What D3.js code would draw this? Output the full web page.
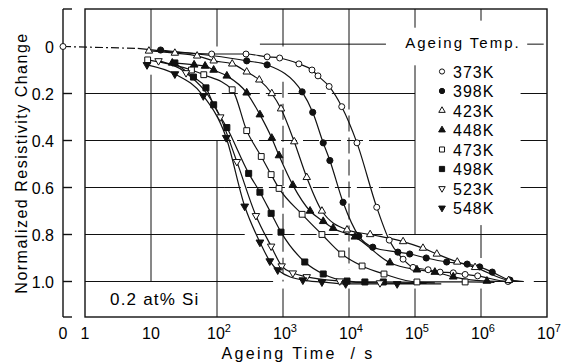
<!DOCTYPE html>
<html>
<head>
<meta charset="utf-8">
<script src="https://cdn.jsdelivr.net/npm/d3@7"></script>
<style>
  body { margin: 0; background: #fff; }
  svg { display: block; font-family: "Liberation Sans", Arial, sans-serif; }
</style>
</head>
<body>
<div id="chart"></div>
<script>
// ageing time (s) vs normalized resistivity change
const temps = ["373K", "398K", "423K", "448K", "473K", "498K", "523K", "548K"]

const s373 = [[83, 0.032], [275, 0.032], [575, 0.044], [890, 0.049], [1740, 0.074], [2750, 0.10],
  [3390, 0.125], [5000, 0.17], [7760, 0.256], [13200, 0.41], [26300, 0.684], [40700, 0.824],
  [66000, 0.905], [93300, 0.94], [158000, 0.95], [240000, 0.96], [380000, 0.963], [575000, 0.97],
  [890000, 0.976], [2570000, 1.0]]
const s398 = [[14, 0.015], [282, 0.061], [575, 0.078], [1950, 0.193], [2820, 0.28], [4070, 0.41],
  [5130, 0.485], [8130, 0.663], [14100, 0.807], [22900, 0.854], [55000, 0.875], [83200, 0.883],
  [148000, 0.90], [302000, 0.917], [617000, 0.926], [955000, 0.938], [1480000, 0.96], [2750000, 0.994]]
const s423 = [[9.3, 0.019], [23, 0.028], [50, 0.04], [89, 0.061], [170, 0.074], [282, 0.108],
  [437, 0.142], [676, 0.20], [933, 0.265], [1480, 0.405], [2290, 0.557], [3890, 0.70], [9330, 0.78],
  [20900, 0.80], [66000, 0.83], [132000, 0.858], [214000, 0.883], [437000, 0.917], [813000, 0.94],
  [2630000, 0.995]]
const s448 = [[21, 0.07], [45, 0.078], [66, 0.083], [89, 0.10], [141, 0.125], [282, 0.197],
  [447, 0.29], [676, 0.39], [871, 0.464], [1410, 0.59], [2570, 0.70], [4070, 0.744], [5750, 0.773],
  [12300, 0.81], [41700, 0.92], [107000, 0.95], [200000, 0.96], [380000, 0.98], [1230000, 0.998]]
const s473 = [[8.9, 0.057], [41, 0.10], [63, 0.12], [170, 0.184], [282, 0.358], [468, 0.468],
  [661, 0.545], [871, 0.604], [1950, 0.714], [3890, 0.80], [7760, 0.883], [15800, 0.934],
  [33900, 0.968], [107000, 1.002], [575000, 1.002]]
const s498 = [[23, 0.07], [44, 0.13], [68, 0.176], [89, 0.248], [141, 0.345], [302, 0.54],
  [447, 0.62], [661, 0.71], [933, 0.79], [2140, 0.917], [4070, 0.968], [9330, 0.998],
  [17400, 1.002], [33100, 1.002]]
const s523 = [[13, 0.061], [34, 0.112], [112, 0.30], [200, 0.49], [389, 0.72], [661, 0.85],
  [955, 0.934], [1410, 0.964], [2290, 0.98], [7240, 0.998], [29500, 1.006]]
const s548 = [[8.7, 0.078], [23, 0.117], [62, 0.21], [138, 0.388], [263, 0.68], [447, 0.833],
  [631, 0.913], [832, 0.951], [2000, 0.994], [3890, 1.002], [8910, 1.01], [53700, 1.01]]

const series = [s373, s398, s423, s448, s473, s498, s523, s548]
// where each drawn curve runs out on the right
const lineEnds = [[4.4e6, 1.0], [4.4e6, 1.0], [4.4e6, 1.0], [4.0e6, 1.0], [1.6e6, 1.004],
  [2.0e5, 1.006], [1.5e5, 1.008], [2.5e5, 1.01]]
// the 373K sample before ageing (t = 0) and where its dashed lead-in joins the curve
const zeroPoint = [0, 0]
const join373 = [6.3, 0.008]

const xTicks = [1, 10, 1e2, 1e3, 1e4, 1e5, 1e6, 1e7]
const yTicks = [0, 0.2, 0.4, 0.6, 0.8, 1.0]

const width = 568, height = 363
const svg = d3.select("#chart").append("svg")
  .attr("width", width).attr("height", height)

const x = d3.scaleLog().domain([1, 1e7]).range([85, 547])
const y = d3.scaleLinear().domain([0, 1]).range([46.5, 281.5])
const xZero = 63
const px = t => t === 0 ? xZero : x(t)
const yTop = 9, yBot = 317

// grid pieces as drawn in the original (decade exponent / value ranges), "d" = dashed
const hGrid = [
  [-0.01, [[2.65, 4.56, "s"], [6.7, 6.95, "s"]]],
  [0.2, [[0, 1.74, "s"], [1.74, 3.97, "d"], [3.97, 5, "s"], [6.6, 7, "s"]]],
  [0.4, [[0, 1.97, "s"], [1.97, 4.35, "d"], [4.35, 5, "s"], [6.6, 7, "s"]]],
  [0.6, [[0, 2.12, "s"], [2.12, 4.48, "d"], [4.48, 5, "s"], [6.6, 7, "s"]]],
  [0.8, [[0, 2.42, "s"], [2.6, 4.74, "d"], [4.74, 7, "s"]]],
  [1.0, [[0, 2.85, "s"], [6.8, 7, "s"]]]
]
const vTop = y.invert(yTop), vBot = y.invert(yBot)
const vGrid = [
  [1, [[vTop, 0.01, "s"], [0.12, 1.0, "s"]]],
  [2, [[vTop, 0.0, "s"], [0.4, vBot, "s"]]],
  [3, [[vTop, 0.0, "s"], [0.15, 1.0, "d"], [1.03, vBot, "s"]]],
  [4, [[vTop, 0.2, "s"], [0.2, 0.95, "d"], [1.03, vBot, "s"]]],
  [5, [[vTop, -0.08, "s"], [0.08, 0.8, "s"], [1.03, vBot, "s"]]],
  [6, [[vTop, -0.11, "s"], [0.76, 0.9, "s"], [1.03, vBot, "s"]]]
]

const grid = svg.append("g").attr("stroke", "#111").attr("stroke-width", 1)
hGrid.forEach(([v, segs]) => segs.forEach(s => {
  grid.append("line")
    .attr("x1", x(Math.pow(10, s[0]))).attr("x2", x(Math.pow(10, s[1])))
    .attr("y1", y(v)).attr("y2", y(v))
    .attr("stroke-dasharray", s[2] === "d" ? "16,6" : null)
}))
vGrid.forEach(([e, segs]) => segs.forEach(s => {
  grid.append("line")
    .attr("x1", x(Math.pow(10, e))).attr("x2", x(Math.pow(10, e)))
    .attr("y1", y(s[0])).attr("y2", y(s[1]))
    .attr("stroke-dasharray", s[2] === "d" ? "16,6" : null)
}))

// frame
svg.append("rect")
  .attr("x", x(1)).attr("y", yTop)
  .attr("width", x(1e7) - x(1)).attr("height", yBot - yTop)
  .attr("fill", "none").attr("stroke", "#111").attr("stroke-width", 1.4)

// separate axis for t = 0
const zAxis = svg.append("g").attr("stroke", "#111").attr("stroke-width", 1.4)
zAxis.append("line").attr("x1", xZero).attr("x2", xZero).attr("y1", yTop).attr("y2", yBot)
const zTicks = [vTop, 0.2, 0.4, 0.6, 0.8, 1.0, vBot]
zTicks.forEach(v => {
  zAxis.append("line").attr("x1", xZero).attr("x2", xZero + 9).attr("y1", y(v)).attr("y2", y(v))
})

// y tick labels
svg.append("g").selectAll("text").data(yTicks).join("text")
  .attr("x", 54).attr("y", d => y(d) + 6)
  .attr("text-anchor", "end")
  .attr("font-size", 16)
  .text(d => d === 0 ? "0" : d.toFixed(1))

// x tick labels
const xl = svg.append("g").attr("font-size", 16).attr("text-anchor", "middle")
xl.append("text").attr("x", xZero).attr("y", 339).text("0")
xTicks.forEach((t, i) => {
  const tx = xl.append("text").attr("x", x(t) + (i >= 2 ? 2 : 0)).attr("y", 339)
  if (i === 0) tx.text("1")
  else if (i === 1) tx.text("10")
  else {
    tx.append("tspan").text("10")
    tx.append("tspan").attr("dy", -7).attr("font-size", 11).text(i)
  }
})

// axis titles
svg.append("text")
  .attr("x", 298).attr("y", 359)
  .attr("text-anchor", "middle")
  .attr("font-size", 16)
  .attr("letter-spacing", 2.4)
  .style("white-space", "pre")
  .text("Ageing Time  / s")

svg.append("text")
  .attr("transform", "translate(27,163) rotate(-90)")
  .attr("text-anchor", "middle")
  .attr("font-size", 16)
  .attr("letter-spacing", 1.5)
  .text("Normalized Resistivity Change")

svg.append("text")
  .attr("x", 110).attr("y", 305)
  .attr("font-size", 17)
  .attr("letter-spacing", 1.2)
  .text("0.2 at% Si")

// curves
const line = d3.line().x(d => px(d[0])).y(d => y(d[1])).curve(d3.curveMonotoneX)
const curves = svg.append("g").attr("fill", "none").attr("stroke", "#111").attr("stroke-width", 1.2)

curves.append("path")
  .attr("d", d3.line().x(d => px(d[0])).y(d => y(d[1]))([zeroPoint, join373]))
  .attr("stroke-dasharray", "8,3,2,3")

series.forEach((s, i) => {
  const pts = (i === 0 ? [join373] : []).concat(s, [lineEnds[i]])
  curves.append("path").attr("d", line(pts))
})

// markers
const symTypes = [d3.symbolCircle, d3.symbolCircle, d3.symbolTriangle, d3.symbolTriangle,
  d3.symbolSquare, d3.symbolSquare, d3.symbolTriangle, d3.symbolTriangle]
const symSizes = [28, 30, 24, 26, 34, 36, 24, 26]
const filled = i => i % 2 === 1
const flip = i => i >= 6

function marker(g, i, cx, cy, scale) {
  g.append("path")
    .attr("d", d3.symbol().type(symTypes[i]).size(symSizes[i] * scale)())
    .attr("transform", "translate(" + cx + "," + cy + ")" + (flip(i) ? " rotate(180)" : ""))
    .attr("fill", filled(i) ? "#111" : "#fff")
    .attr("stroke", "#111")
    .attr("stroke-width", 1)
}

const marks = svg.append("g")
series.forEach((s, i) => {
  s.forEach(d => marker(marks, i, px(d[0]), y(d[1]), 1))
})
marker(marks, 0, px(zeroPoint[0]), y(zeroPoint[1]), 1)

// legend
const legend = svg.append("g")
legend.append("text")
  .attr("x", 463).attr("y", 48)
  .attr("text-anchor", "middle")
  .attr("font-size", 15)
  .attr("letter-spacing", 2)
  .text("Ageing Temp.")

temps.forEach((t, i) => {
  const cy = 71.5 + 19.5 * i
  marker(legend, i, 442, cy, 0.75)
  legend.append("text")
    .attr("x", 453).attr("y", cy + 6)
    .attr("font-size", 16)
    .attr("letter-spacing", 1)
    .text(t)
})
</script>
</body>
</html>
